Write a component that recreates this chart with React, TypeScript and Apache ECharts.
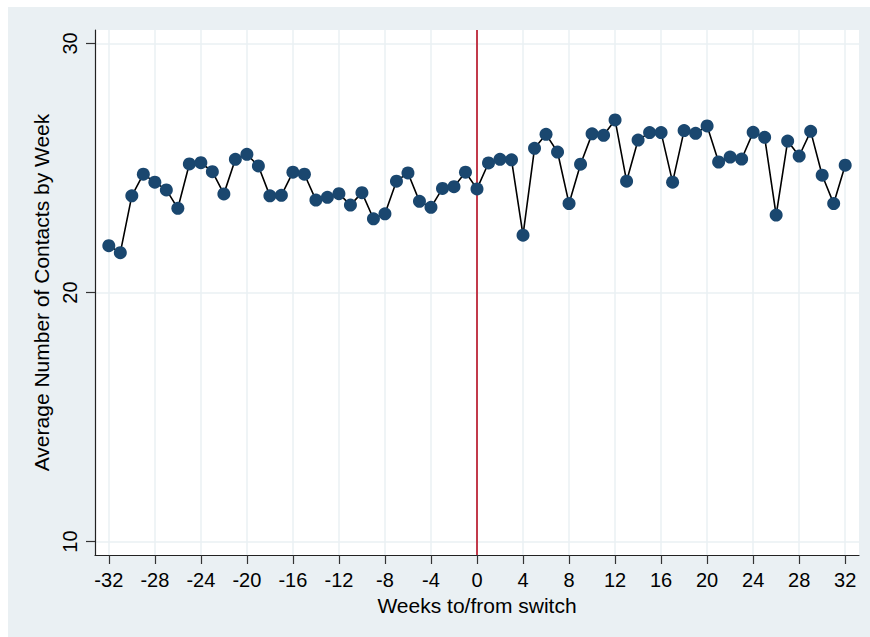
import React, { useEffect, useRef } from "react";
import * as echarts from "echarts";

const weeks: number[] = [
  -32, -31, -30, -29, -28, -27, -26, -25, -24, -23, -22, -21, -20, -19, -18, -17,
  -16, -15, -14, -13, -12, -11, -10, -9, -8, -7, -6, -5, -4, -3, -2, -1,
  0, 1, 2, 3, 4, 5, 6, 7, 8, 9, 10, 11, 12, 13, 14, 15,
  16, 17, 18, 19, 20, 21, 22, 23, 24, 25, 26, 27, 28, 29, 30, 31, 32,
];

const avgContacts: number[] = [
  21.88, 21.6, 23.88, 24.75, 24.43, 24.12, 23.38, 25.16, 25.21, 24.85, 23.96, 25.35, 25.55, 25.08, 23.88, 23.9,
  24.83, 24.75, 23.71, 23.82, 23.97, 23.51, 24.01, 22.96, 23.16, 24.47, 24.8, 23.66, 23.42, 24.18, 24.25, 24.83,
  24.16, 25.2, 25.35, 25.33, 22.3, 25.79, 26.35, 25.64, 23.57, 25.15, 26.37, 26.31, 26.93, 24.47, 26.12, 26.42,
  26.42, 24.43, 26.5, 26.39, 26.69, 25.24, 25.44, 25.36, 26.43, 26.23, 23.11, 26.08, 25.48, 26.47, 24.71, 23.57, 25.11,
];

const xTicks: number[] = [-32, -28, -24, -20, -16, -12, -8, -4, 0, 4, 8, 12, 16, 20, 24, 28, 32];
const yTicks: number[] = [10, 20, 30];
const switchWeek = 0;

const FONT = "'Liberation Sans', Arial, Helvetica, sans-serif";

export default function App() {
  const ref = useRef<HTMLDivElement>(null);

  useEffect(() => {
    document.body.style.margin = "0";
    if (!ref.current) return;
    const chart = echarts.init(ref.current, undefined, { renderer: "svg" });
    const data = weeks.map((w, i) => [w, avgContacts[i]]);
    chart.setOption({
      animation: false,
      backgroundColor: "#ffffff",
      textStyle: { fontFamily: FONT },
      graphic: [
        {
          type: "rect",
          z: -10,
          silent: true,
          shape: { x: 8, y: 7, width: 862, height: 630 },
          style: { fill: "#EAF0F3" },
        },
      ],
      grid: {
        left: 95,
        top: 30,
        right: 11,
        bottom: 82,
        show: true,
        backgroundColor: "#ffffff",
        borderWidth: 0,
      },
      xAxis: {
        type: "value",
        min: -33.2,
        max: 33.2,
        name: "Weeks to/from switch",
        nameLocation: "middle",
        nameGap: 38,
        nameTextStyle: { fontSize: 21, color: "#000", fontFamily: FONT },
        axisLine: { show: true, onZero: false, lineStyle: { color: "#222", width: 1.2 } },
        axisTick: { show: true, length: 9, customValues: xTicks, lineStyle: { color: "#333", width: 1.2 } },
        axisLabel: {
          customValues: xTicks,
          margin: 15,
          fontSize: 20,
          color: "#000",
          fontFamily: FONT,
        },
        splitLine: { show: true, lineStyle: { color: "#EAF0F3", width: 1.5 } },
      },
      yAxis: {
        type: "value",
        min: 9.46,
        max: 30.54,
        name: "Average Number of Contacts by Week",
        nameLocation: "middle",
        nameGap: 39,
        nameTextStyle: { fontSize: 21, color: "#000", fontFamily: FONT },
        axisLine: { show: true, onZero: false, lineStyle: { color: "#222", width: 1.2 } },
        axisTick: { show: true, length: 9, customValues: yTicks, lineStyle: { color: "#333", width: 1.2 } },
        axisLabel: {
          customValues: yTicks,
          rotate: 90,
          margin: 15,
          fontSize: 20,
          color: "#000",
          fontFamily: FONT,
        },
        splitLine: { show: true, lineStyle: { color: "#EAF0F3", width: 1.5 } },
      },
      series: [
        {
          type: "line",
          data,
          symbol: "circle",
          symbolSize: 13,
          itemStyle: { color: "#1A476F" },
          lineStyle: { color: "#000000", width: 1.6 },
          z: 3,
          markLine: {
            silent: true,
            symbol: "none",
            label: { show: false },
            lineStyle: { color: "#C23A4B", width: 2, type: "solid" },
            data: [{ xAxis: switchWeek }],
            z: 2,
          },
        },
      ],
    });
    return () => chart.dispose();
  }, []);

  return <div ref={ref} style={{ width: 870, height: 637 }} />;
}
